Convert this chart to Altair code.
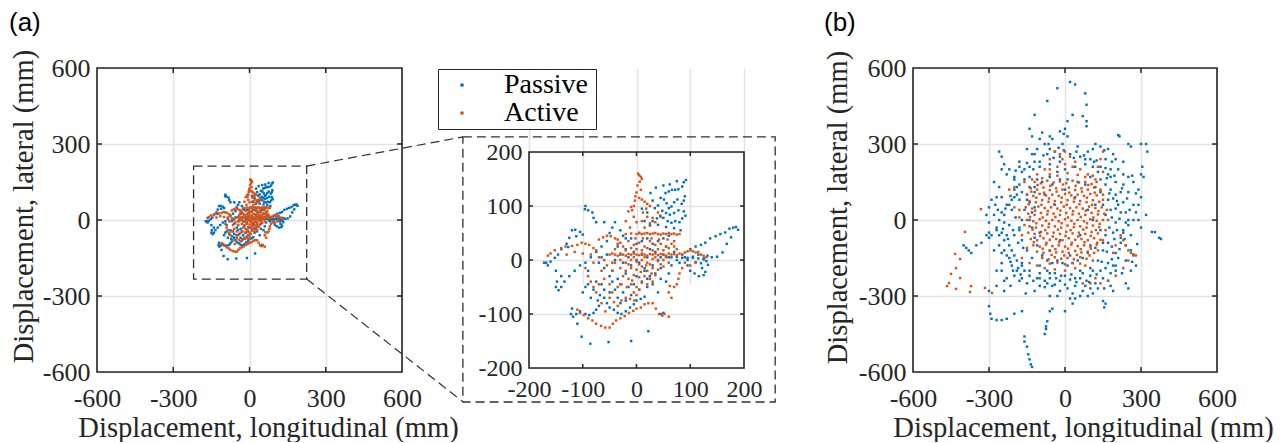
import altair as alt
import pandas as pd

# ---------------- data (mm) ----------------
series_names = ["Passive", "Active"]
series_colors = ["#0072BD", "#D95319"]
main_ticks = [-600, -300, 0, 300, 600]
inset_ticks = [-200, -100, 0, 100, 200]

passive_a = [
    (92,148),(88,144),(85,136),(78,131),(72,130),(66,130),(60,127),(54,124),(90,118),(88,110),(84,104),(76,112),
    (70,107),(65,99),(60,96),(56,105),(51,112),(45,115),(40,101),(34,96),(48,91),(55,87),(62,84),(70,87),(78,92),
    (88,90),(91,82),(85,77),(80,70),(72,72),(65,69),(58,72),(50,78),(44,82),(38,77),(30,72),(25,64),(40,65),(55,61),
    (70,59),(82,55),(30,110),(20,88),(15,72),(10,95),(62,140),(75,146),(50,138),(36,134),(26,124),
    (100,20),(110,25),(120,28),(128,32),(137,40),(147,44),(156,48),(165,51),(173,58),(180,60),(185,61),(189,56),
    (176,42),(168,30),(160,14),(150,6),(140,5),(132,8),(125,1),(120,-6),(122,-15),(128,-22),(125,-28),(116,-30),
    (108,-25),(100,-20),(95,-10),(105,6),(110,-4),(115,10),(133,-9),(130,-2),
    (45,5),(55,6),(65,5),(75,6),(85,4),(95,4),(105,4),(115,3),(125,3),
    (-95,100),(-96,94),(-90,92),(-82,88),(-80,78),(-75,70),(-120,55),(-114,56),(-105,52),(-100,47),(-112,44),
    (-125,41),(-130,30),(-127,24),(-140,20),(-146,10),(-152,4),(-160,-3),(-168,-5),(-172,-5),(-165,-10),(-150,-20),
    (-140,-30),(-148,-40),(-150,-50),(-145,-56),(-140,-50),(-134,-40),(-125,-30),(-115,-20),(-105,-10),(-95,-5),
    (-85,5),(-75,15),(-65,25),(-55,35),(-50,50),(-45,60),(-60,70),(-40,70),(-30,55),(-20,40),(-70,-5),(-90,-20),
    (-120,-90),(-122,-100),(-118,-105),(-112,-100),(-105,-95),(-95,-100),(-88,-102),(-80,-98),(-75,-92),(-70,-85),
    (-72,-75),(-68,-65),(-60,-70),(-55,-80),(-50,-88),(-42,-92),(-35,-98),(-28,-100),(-20,-95),(-12,-88),(-5,-82),
    (0,-75),(8,-72),(15,-68),(-110,-118),(-102,-142),(-86,-155),(-52,-152),(-10,-150),(22,-132),(45,-100),(50,-98),
    (-100,-60),(-95,-50),(-90,-45),(-85,-70),(-80,-55),(-75,-40),(-65,-45),(-60,-55),(-50,-60),(-45,-40),(-40,-55),
    (-35,-70),(-30,-80),(-25,-60),(-20,-75),(-15,-50),(-10,-65),(-5,-45),(5,-55),(10,-40),(20,-50),(30,-45),
    (40,-60),(45,-35),(55,-40),(60,-25),(35,-25),(25,-30),(15,-20),
    (-40,0),(-30,10),(-25,-5),(-20,20),(-15,5),(-10,-10),(-5,15),(0,0),(5,-5),(10,10),(15,-15),(20,5),(25,20),
    (30,-10),(35,15),(40,0),(45,-15),(50,10),(55,25),(60,5),(65,-10),(70,15),(75,0),(80,-5),(85,10),(90,5),(95,0),
    (-35,25),(-45,-20),(-55,10),(-60,-15),(-65,5),(-50,-30),(-35,-35),(-20,-25),(0,30),(10,35),(20,40),(30,30),
    (40,35),(50,40),(60,45),(5,50),(-10,40),(-25,45),(-30,-45),(0,-30),(20,-35),
]

active_a = [
    (3,160),(5,157),(8,154),(10,150),(6,145),(0,125),(-2,118),(5,115),(10,112),(15,108),(20,104),(25,100),(18,95),
    (-5,100),(-10,98),(-8,92),(-15,90),(12,88),(20,80),(30,78),(35,70),(25,68),(15,60),(40,88),(45,80),(-5,80),
    (-20,72),(0,70),(10,72),(-12,60),(8,130),(2,138),(-3,110),
    (-165,8),(-160,12),(-152,18),(-140,22),(-132,25),(-120,26),(-110,28),(-102,32),(-95,30),(-88,28),(-80,22),
    (-75,18),(-70,38),(-62,42),(-55,45),(-48,44),(-40,40),(-35,38),(-30,32),(-130,10),(-115,15),(-100,12),(-85,10),
    (-70,5),(-60,0),(-80,-5),(-95,-15),(-90,-30),(-85,-40),(-80,-50),(-75,-60),(-70,-45),(-60,-35),(-65,-20),
    (-55,-10),(-45,-20),(-40,-5),(-50,-45),(-45,-60),(-35,-50),
    (-20,48),(-10,49),(0,48),(5,50),(10,48),(15,49),(20,50),(25,48),(30,49),(35,50),(40,48),(45,47),(50,49),(55,48),
    (60,50),(65,48),(70,49),(75,47),(80,48),
    (-50,10),(-45,12),(-40,10),(-35,8),(-30,12),(-25,10),(-20,8),(-15,11),(-10,10),(-5,12),(0,10),(5,9),(10,12),
    (15,10),(20,8),(25,11),(30,10),(35,12),(40,9),(45,11),(50,10),(55,8),(60,12),(65,10),(70,11),(75,9),(80,12),
    (85,10),(90,14),(95,16),(100,18),(105,16),(110,14),(115,15),(120,10),
    (-35,30),(-25,25),(-15,35),(-5,28),(5,32),(15,25),(25,35),(35,28),(45,30),(55,25),(-30,0),(-20,-5),(-10,0),
    (0,-3),(10,0),(20,-5),(30,2),(40,-2),(50,0),(60,-5),(-30,-15),(-20,-20),(-10,-15),(0,-18),(10,-12),(20,-20),
    (30,-15),(40,-18),(50,-12),(-25,-30),(-15,-35),(-5,-28),(5,-32),(15,-30),(25,-35),(35,-28),(-10,-45),(0,-50),
    (10,-42),(-5,-60),(5,-55),(0,-65),(-20,18),(-10,22),(0,20),(10,18),(20,22),(30,18),(40,20),(50,18),(60,22),
    (70,25),(-40,20),(-45,-5),(65,30),(70,35),(75,20),(-15,-8),(-5,5),(5,-8),(15,5),(25,-8),(35,5),(45,-8),(55,5),
    (-28,-45),(-18,-50),(20,-45),(30,-40),(-8,-38),(8,-22),(18,-10),(28,-25),(-2,40),(12,40),(28,40),(42,38),(58,38),
    (90,-5),(85,-15),(80,-25),(78,-35),(75,-45),(70,-50),(62,-48),(65,-70),(60,-60),(100,-10),(110,-5),(125,8),
    (130,5),(60,-105),(52,-100),
    (-110,-92),(-105,-98),(-98,-102),(-90,-108),(-82,-112),(-75,-118),(-66,-122),(-58,-125),(-50,-125),(-44,-118),
    (-38,-112),(-30,-108),(-22,-104),(-14,-98),(-6,-94),(0,-90),(8,-88),(15,-82),(22,-80),(30,-80),(36,-90),
    (42,-100),(48,-103),(-35,-85),(-28,-75),(-20,-70),(-12,-72),(-4,-75),(-58,-95),(-65,-80),(-42,-78),(-50,-70),
]

passive_b = [
    (-30,520),(20,545),(40,535),(-70,470),(80,500),(85,455),(70,410),(30,415),(10,390),(-120,415),(-20,350),
    (0,360),(-5,340),(10,330),(85,390),(85,370),(-100,320),(-140,360),(-130,330),(-90,345),(-60,330),(-50,320),
    (210,335),(215,330),(250,300),(260,290),(300,300),(320,300),(325,270),(305,210),(300,180),(310,170),(320,20),
    (343,-47),(355,-48),(379,-75),(372,-70),
    (-130,-580),(-135,-570),(-140,-550),(-145,-530),(-150,-500),(-160,-480),(-160,-460),(-75,-430),(-75,-420),
    (-80,-450),(-70,-400),(-300,-340),(-295,-370),(-290,-390),(-270,-395),(-250,-395),(-230,-390),(-200,-370),
    (-170,-360),(-60,-360),(-50,-350),(0,-360),(30,-330),(40,-310),(60,-300),(90,-300),(150,-320),(155,-345),
    (160,-330),(190,-280),(170,-240),(240,-250),(250,-270),
    (-400,-100),(-390,-110),(-380,-120),(-370,-130),(-350,-100),(-330,-90),(-310,-60),(-300,-50),(-290,-60),
    (-300,-70),(-270,-40),(-250,-50),(-240,-80),(-260,-100),(-280,-120),(-230,-140),(-220,-150),(-270,-200),
    (-250,-200),(-200,-220),(-180,-240),(-240,-240),(-230,-230),(-240,-280),(-270,-260),(-300,-280),(-250,-170),
    (-260,270),(-250,250),(-240,220),(-250,200),(-230,180),(-200,160),(-180,140),(-270,90),(-290,80),(-300,50),
    (-310,20),(-300,-10),(-260,0),(-240,20),(-220,60),(-200,90),(-180,230),(-150,280),(-130,260),(-120,230),
    (-100,210),(-110,280),(-80,300),(-60,280),(-40,270),(-20,250),(-160,200),(-140,170),(-120,130),(-180,80),
    (-210,40),(-150,100),(-220,-20),(-200,-60),(-180,-30),
    (120,300),(140,290),(170,280),(190,260),(200,240),(180,200),(210,200),(230,180),(250,170),(270,150),(290,120),
    (300,90),(290,60),(280,30),(270,0),(250,-20),(230,-40),(220,-70),(240,-100),(260,-120),(270,-140),(210,-150),
    (190,-180),(180,-210),(150,-230),(120,-250),(100,-270),(70,-280),(40,-260),(10,-270),(-20,-280),(-50,-260),
    (-80,-240),(-110,-230),(-140,-220),(-160,-200),(-170,-180),(-190,-160),(-210,-120),(140,160),(160,140),
    (180,120),(200,100),(210,60),(220,30),(200,-10),(190,-50),(170,-90),(150,-120),(130,-160),(100,-190),(70,-210),
    (40,-230),(0,-220),(-40,-210),(-70,-200),(-100,-180),(-130,-150),(-150,-120),(-170,-80),(-180,-40),(-170,0),
    (-160,40),(-150,80),(-120,110),(-90,150),(-60,170),(-30,190),(0,200),(40,210),(80,220),(110,210),(130,190),
    (-120,50),(-100,-50),(-80,100),(-60,-120),(-40,60),(-20,-80),(0,120),(20,-140),(40,90),(60,-60),(80,140),
    (100,-100),(120,60),(140,-40),(160,20),(110,0),(90,40),(-110,-100),(-90,-140),(-70,-160),(-50,-170),(-30,-160),
    (-10,-170),(10,-180),(30,-170),(50,-160),(70,-150),(90,-130),(-130,-30),(-140,0),(-130,30),(-120,-70),(-140,70),
    (150,60),(170,80),(180,40),(160,-60),(150,-90),(120,-110),(-50,140),(-20,160),(10,160),(50,150),(100,170),
    (120,130),(140,110),
    (-200,120),(-190,100),(-210,80),(-230,60),(-250,30),(-240,-10),(-230,-60),(-220,-100),(-200,-140),(-170,-170),
    (-140,-200),(-100,-210),(-60,-230),(-20,-240),(20,-235),(60,-230),(100,-220),(140,-200),(170,-170),(200,-130),
    (220,-90),(230,-50),(240,-10),(240,30),(230,70),(220,110),(200,150),(170,180),(140,210),(100,240),(60,250),
    (20,260),(-20,230),(-60,220),(-100,230),(-140,210),(-170,190),(-200,170),(-190,-200),(-150,-250),(-100,-260),
    (-30,-300),(30,-290),(80,-260),(130,-270),(200,-200),(240,-160),(260,-60),(270,60),(250,110),(230,140),
    (180,170),(90,270),(50,290),(-10,300),(-70,260),(-120,260),(-180,210),(-220,200),(-280,150),(-260,130),
    (-250,90),(-280,20),(-270,-30),(-250,-130),(-210,-180),(-170,-230),(-120,-280),(-60,-300),(20,-310),(110,-290),
    (180,-260),(200,-180),(260,-200),(280,-180),(300,-30),(290,0),(230,230),(160,240),(110,280),
    (-160,160),(-190,130),(-215,95),(-235,45),(-245,-35),(-240,-120),(-215,-165),(-185,-190),(-125,-240),(-80,-265),
    (-40,-255),(0,-255),(45,-245),(85,-240),(125,-215),(160,-190),(185,-155),(215,-115),(235,-75),(250,0),(255,40),
    (245,85),(225,125),(195,175),(160,205),(125,235),(75,255),(35,245),(-5,275),(-45,245),(-85,255),(-125,200),
    (-150,225),(-195,195),(-175,-215),(-205,-200),(-225,-75),(-260,-60),(-275,60),(-265,40),(175,-30),(185,10),
    (195,-75),(205,75),(175,105),(165,165),(-110,160),(-140,130),(-170,110),(-165,-110),(-185,-90),(-195,10),
    (-205,-40),(-100,-230),(-60,-210),(-15,-220),(25,-215),(60,-200),(110,-200),(145,-165),(165,-125),(185,-105),
    (205,-40),(215,5),(200,45),(190,85),(-35,-230),(-70,-250),(115,230),(80,240),(45,270),(-25,285),(-65,300),
    (155,275),(185,230),(265,175),(280,105),(285,-95),(265,-165),(225,-210),(155,-270),(95,-245),(-155,-290),
    (-215,-260),
]

active_b = [
    (-395,-47),(-434,-134),(-414,-154),(-430,-190),(-450,-213),(-414,-229),(-458,-249),(-466,-261),(-430,-272),
    (-371,-261),(-375,-284),(-316,-268),(-288,-288),(-332,43),
    (280,-140),(270,-135),(260,-130),(250,-120),(240,-100),(230,-80),(220,-60),(250,-160),(230,-190),(200,-220),
    (170,-240),(140,-250),(100,-250),(70,-250),(120,-230),(190,-130),(200,-100),(150,270),(140,240),(130,210),
    (150,190),
    (-40,270),(-20,260),(-10,240),(0,270),(20,250),(40,230),(-60,240),(-80,200),(-110,180),(-130,160),(-160,150),
    (-200,130),(-220,120),(-200,50),(-180,40),(-180,10),(-160,-20),(-170,-60),(-150,-110),(-170,-150),(-140,-170),
    (-110,-180),(-80,-190),(-40,-195),(0,-200),(40,-190),(80,-180),(110,-160),(130,-120),(150,-80),(160,-40),
    (170,0),(165,40),(150,80),(140,120),(120,160),(90,180),(60,200),(30,210),(0,220),(-30,210),(-60,200),
    (-60,180),(-30,175),(10,185),(50,178),(80,170),(110,175),(-90,165),
    (-120,150),(-95,145),(-70,155),(-45,148),(-20,152),(5,145),(30,155),(55,148),(80,150),(105,142),(125,150),
    (-135,125),(-110,120),(-85,128),(-60,118),(-35,125),(-10,120),(15,128),(40,118),(65,125),(90,120),(115,128),
    (140,115),
    (-150,100),(-125,95),(-100,103),(-75,97),(-50,100),(-25,95),(0,103),(25,97),(50,100),(75,95),(100,103),
    (125,97),(150,100),
    (-140,75),(-115,70),(-90,78),(-65,72),(-40,75),(-15,70),(10,78),(35,72),(60,75),(85,70),(110,78),(135,72),
    (-155,50),(-130,45),(-105,53),(-80,47),(-55,50),(-30,45),(-5,53),(20,47),(45,50),(70,45),(95,53),(120,47),
    (145,50),
    (-145,25),(-120,20),(-95,28),(-70,22),(-45,25),(-20,20),(5,28),(30,22),(55,25),(80,20),(105,28),(130,22),
    (155,25),
    (-150,0),(-125,-5),(-100,3),(-75,-3),(-50,0),(-25,-5),(0,3),(25,-3),(50,0),(75,-5),(100,3),(125,-3),(150,0),
    (-140,-25),(-115,-30),(-90,-22),(-65,-28),(-40,-25),(-15,-30),(10,-22),(35,-28),(60,-25),(85,-30),(110,-22),
    (135,-28),
    (-145,-50),(-120,-55),(-95,-47),(-70,-53),(-45,-50),(-20,-55),(5,-47),(30,-53),(55,-50),(80,-55),(105,-47),
    (130,-53),
    (-135,-75),(-110,-80),(-85,-72),(-60,-78),(-35,-75),(-10,-80),(15,-72),(40,-78),(65,-75),(90,-80),(115,-72),
    (140,-78),
    (-125,-100),(-100,-105),(-75,-97),(-50,-103),(-25,-100),(0,-105),(25,-97),(50,-103),(75,-100),(100,-105),
    (125,-97),
    (-110,-125),(-85,-130),(-60,-122),(-35,-128),(-10,-125),(15,-130),(40,-122),(65,-128),(90,-125),(115,-130),
    (-90,-150),(-65,-155),(-40,-147),(-15,-153),(10,-150),(35,-155),(60,-147),(85,-153),
    (-60,-172),(-30,-168),(0,-175),(30,-170),(60,-172),
    (-108,138),(-58,135),(-8,140),(42,135),(92,138),(-133,112),(-83,108),(-33,112),(17,108),(67,112),(117,108),
    (-113,88),(-63,85),(-13,88),(37,85),(87,88),(-143,62),(-93,60),(-43,62),(7,60),(57,62),(107,60),(-118,37),
    (-68,35),(-18,37),(32,35),(82,37),(132,35),(-138,12),(-88,10),(-38,12),(12,10),(62,12),(112,10),(-113,-13),
    (-63,-15),(-13,-13),(37,-15),(87,-13),(137,-15),(-128,-38),(-78,-40),(-28,-38),(22,-40),(72,-38),(122,-40),
    (-98,-63),(-48,-65),(2,-63),(52,-65),(102,-63),(-123,-88),(-73,-90),(-23,-88),(27,-90),(77,-88),(127,-90),
    (-88,-113),(-38,-115),(12,-113),(62,-115),(102,-113),(-53,-138),(-3,-140),(47,-138),(97,-140),
]

# zoom window drawn on panel (a) and the inset frame around the enlarged view
zoom_window = {"x": -220, "x2": 225, "y": -233, "y2": 213}
inset_window = {"x": -323, "x2": 258, "y": -263, "y2": 228}
connector_lines = {"x": [225, 225], "y": [213, -233], "x2": [840, 840], "y2": [328, -718]}

# ---------------- styling ----------------
SERIF = "Liberation Serif"
SANS = "Liberation Sans"
INK = "#262626"
GRID = "#e2e2e2"
LABEL_EXPR = "datum.value < 0 ? '-' + format(-datum.value, 'd') : format(datum.value, 'd')"


def to_df(passive, active):
    rows = [{"x": x, "y": y, "series": "Passive", "k": i} for i, (x, y) in enumerate(passive)]
    n = len(rows)
    rows += [{"x": x, "y": y, "series": "Active", "k": n + i} for i, (x, y) in enumerate(active)]
    return pd.DataFrame(rows)


df_a = to_df(passive_a, active_a)
df_b = to_df(passive_b, active_b)

# an invisible right-hand legend title widens the box to the reference's size
legend = alt.Legend(
    title=".", titleOrient="right", titleOpacity=0, titleFontSize=10, titlePadding=3,
    orient="none", legendX=341, legendY=1, direction="vertical",
    fillColor="white", strokeColor=INK, padding=2, cornerRadius=0,
    labelFont=SERIF, labelFontSize=28, labelColor="black", labelOffset=28,
    symbolOffset=8, symbolType="circle", symbolSize=14, symbolStrokeWidth=0,
    rowPadding=0,
)


def axis(values, pad, title=None, title_x=0, title_y=0, label_size=26):
    kw = dict(
        values=values, labelFont=SERIF, labelFontSize=label_size, labelExpr=LABEL_EXPR,
        labelColor=INK, labelPadding=pad, labelFlush=False, labelOverlap=False,
        ticks=False, domain=False, grid=True, gridColor=GRID, gridWidth=1.5,
    )
    if title:
        kw.update(title=title, titleFont=SERIF, titleFontSize=28.6, titleFontWeight="normal",
                  titleColor=INK, titleX=title_x, titleY=title_y, titleBaseline="alphabetic",
                  titleAlign="center")
    else:
        kw.update(title=None)
    return alt.Axis(**kw)


def points(df, xs, ys, xaxis, yaxis):
    return alt.Chart(df).mark_square(size=6, opacity=1).encode(
        x=alt.X("x:Q", scale=xs, axis=xaxis),
        y=alt.Y("y:Q", scale=ys, axis=yaxis),
        color=alt.Color("series:N", scale=alt.Scale(domain=series_names, range=series_colors), legend=legend),
        order=alt.Order("k:Q"),
    )


def box(win, xs, ys, xaxis, yaxis, dashed=False):
    d = pd.DataFrame({k: [v] for k, v in win.items()})
    if dashed:
        m = alt.Chart(d).mark_rect(fillOpacity=0, stroke="#303030", strokeWidth=1.3, strokeDash=[9, 5])
    else:
        m = alt.Chart(d).mark_rect(fillOpacity=0, stroke=INK, strokeWidth=1.6)
    return m.encode(
        x=alt.X("x:Q", scale=xs, axis=xaxis), x2="x2:Q",
        y=alt.Y("y:Q", scale=ys, axis=yaxis), y2="y2:Q",
    )


def tick_marks(values, xs, ys, xaxis, yaxis, left, right, top, bottom, L):
    inner = values[1:-1]
    dx = pd.DataFrame({"x": inner})
    dy = pd.DataFrame({"y": inner})
    rule = dict(color=INK, strokeWidth=1.5)
    xenc = alt.X("x:Q", scale=xs, axis=xaxis)
    yenc = alt.Y("y:Q", scale=ys, axis=yaxis)
    return [
        alt.Chart(dx).mark_rule(**rule).encode(x=xenc, y=alt.value(bottom), y2=alt.value(bottom - L)),
        alt.Chart(dx).mark_rule(**rule).encode(x=xenc, y=alt.value(top), y2=alt.value(top + L)),
        alt.Chart(dy).mark_rule(**rule).encode(y=yenc, x=alt.value(left), x2=alt.value(left + L)),
        alt.Chart(dy).mark_rule(**rule).encode(y=yenc, x=alt.value(right), x2=alt.value(right - L)),
    ]


def panel_label(text, xs_pix, ys_pix):
    return alt.Chart(pd.DataFrame({"t": [text]})).mark_text(
        font=SANS, fontSize=26, align="left", baseline="top", color="black"
    ).encode(x=alt.value(xs_pix), y=alt.value(ys_pix), text="t:N")


X_TITLE = "Displacement, longitudinal (mm)"
Y_TITLE = "Displacement, lateral (mm)"

# ---------------- panel (a) ----------------
WA, HA = 305, 304
xs_a = alt.Scale(domain=[-600, 600], nice=False, zero=False)
ys_a = alt.Scale(domain=[-600, 600], nice=False, zero=False)
xax_a = axis(main_ticks, 13, X_TITLE, title_x=171, title_y=64)
yax_a = axis(main_ticks, 7, Y_TITLE, title_x=-65, title_y=138)
conn = alt.Chart(pd.DataFrame(connector_lines)).mark_rule(
    color="#303030", strokeWidth=1.2, strokeDash=[9, 5]
).encode(
    x=alt.X("x:Q", scale=xs_a, axis=xax_a), x2="x2:Q",
    y=alt.Y("y:Q", scale=ys_a, axis=yax_a), y2="y2:Q",
)
chart_a = alt.layer(
    points(df_a, xs_a, ys_a, xax_a, yax_a),
    box({"x": -600, "x2": 600, "y": -600, "y2": 600}, xs_a, ys_a, xax_a, yax_a),
    *tick_marks(main_ticks, xs_a, ys_a, xax_a, yax_a, 0, WA, 0, HA, 5),
    box(zoom_window, xs_a, ys_a, xax_a, yax_a, dashed=True),
    conn,
    panel_label("(a)", -88, -58),
).properties(width=WA, height=HA)

# ---------------- inset ----------------
WI, HI, TOPI = 215, 300, 84
WI_VIEW = 257
xs_i = alt.Scale(domain=[-200, 200], range=[0, WI], nice=False, zero=False)
ys_i = alt.Scale(domain=[-200, 200], range=[HI, TOPI], nice=False, zero=False)
xax_i = axis(inset_ticks, 9, label_size=24)
yax_i = axis(inset_ticks, 7, label_size=24)
chart_i = alt.layer(
    points(df_a, xs_i, ys_i, xax_i, yax_i),
    box({"x": -200, "x2": 200, "y": -200, "y2": 200}, xs_i, ys_i, xax_i, yax_i),
    *tick_marks(inset_ticks, xs_i, ys_i, xax_i, yax_i, 0, WI, TOPI, HI, 4),
    box(inset_window, xs_i, ys_i, xax_i, yax_i, dashed=True),
).properties(width=WI_VIEW, height=HI)

# ---------------- panel (b) ----------------
WB, HB = 304, 304
xs_b = alt.Scale(domain=[-600, 600], nice=False, zero=False)
ys_b = alt.Scale(domain=[-600, 600], nice=False, zero=False)
xax_b = axis(main_ticks, 13, X_TITLE, title_x=170, title_y=64)
yax_b = axis(main_ticks, 7, Y_TITLE, title_x=-67, title_y=139)
chart_b = alt.layer(
    points(df_b, xs_b, ys_b, xax_b, yax_b),
    box({"x": -600, "x2": 600, "y": -600, "y2": 600}, xs_b, ys_b, xax_b, yax_b),
    *tick_marks(main_ticks, xs_b, ys_b, xax_b, yax_b, 0, WB, 0, HB, 5),
    panel_label("(b)", -89, -58),
).properties(width=WB, height=HB)

chart = alt.hconcat(
    chart_a, chart_i, chart_b, spacing=127, bounds="flush",
).properties(
    padding={"left": 0, "top": 2, "right": 0, "bottom": 0}
).configure(background="white").configure_view(strokeOpacity=0)

chart.save("out.html", embed_options={"renderer": "svg", "actions": False})
